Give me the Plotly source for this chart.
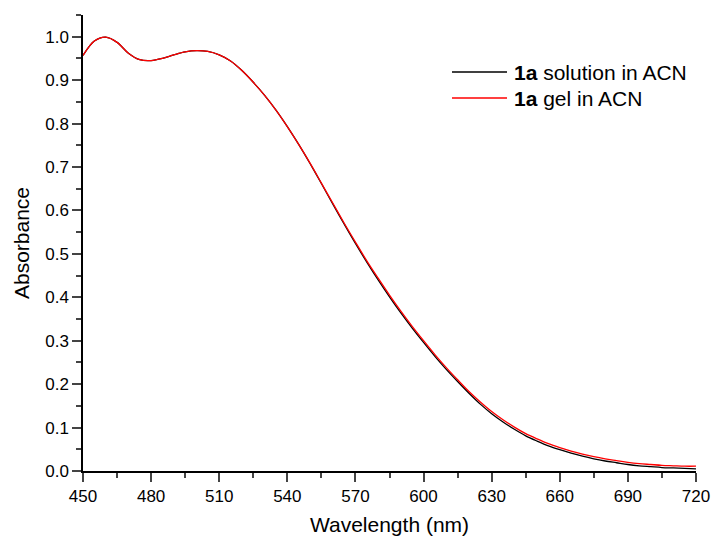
import plotly.graph_objects as go

wavelength = list(range(450, 721, 5))

solution = [0.957, 0.990, 0.999, 0.987, 0.962, 0.947, 0.945, 0.950, 0.958, 0.965,
            0.968, 0.966, 0.958, 0.944, 0.922, 0.895, 0.865, 0.831, 0.793, 0.752,
            0.708, 0.662, 0.615, 0.569, 0.524, 0.481, 0.440, 0.401, 0.364, 0.329,
            0.296, 0.264, 0.234, 0.206, 0.179, 0.154, 0.132, 0.113, 0.096, 0.081,
            0.069, 0.058, 0.049, 0.041, 0.034, 0.028, 0.023, 0.019, 0.015, 0.012,
            0.010, 0.008, 0.007, 0.006, 0.005]

gel = [0.957, 0.990, 0.999, 0.987, 0.962, 0.947, 0.945, 0.950, 0.958, 0.965,
       0.968, 0.966, 0.958, 0.944, 0.922, 0.895, 0.865, 0.831, 0.793, 0.752,
       0.709, 0.663, 0.617, 0.571, 0.527, 0.484, 0.444, 0.405, 0.368, 0.333,
       0.300, 0.268, 0.238, 0.210, 0.183, 0.159, 0.137, 0.118, 0.101, 0.086,
       0.074, 0.063, 0.054, 0.046, 0.039, 0.033, 0.028, 0.024, 0.020, 0.017,
       0.015, 0.013, 0.012, 0.011, 0.011]

series_names = ["<b>1a</b> solution in ACN", "<b>1a</b> gel in ACN"]
series_colors = ["#000000", "#ff0000"]

x_ticks = [450, 480, 510, 540, 570, 600, 630, 660, 690, 720]

fig = go.Figure()
for ys, name, col in zip([solution, gel], series_names, series_colors):
    fig.add_trace(go.Scatter(x=wavelength, y=ys, mode="lines", name=name,
                             line=dict(color=col, width=1.3, shape="spline", smoothing=0.9),
                             showlegend=False, hoverinfo="skip"))

FAM = "Liberation Sans, Arial, sans-serif"
font = dict(family=FAM, size=17, color="#000000")

# manual legend
PL, PR, PT, PB = 83, 696, 15, 471
leg_y = [72, 98]
shapes = []
annotations = []
for i, (name, col) in enumerate(zip(series_names, series_colors)):
    yp = 1 - (leg_y[i] - PT) / (PB - PT)
    shapes.append(dict(type="line", xref="paper", yref="paper",
                       x0=(452 - PL) / (PR - PL), x1=(507 - PL) / (PR - PL), y0=yp, y1=yp,
                       line=dict(color=col, width=1.3)))
    annotations.append(dict(xref="paper", yref="paper", x=(512 - PL) / (PR - PL), y=yp,
                            text=name, showarrow=False, xanchor="left", yanchor="middle",
                            font=dict(family=FAM, size=21, color="#000")))

fig.update_layout(
    width=715, height=540,
    margin=dict(l=PL, r=715 - PR, t=PT, b=540 - PB),
    paper_bgcolor="white", plot_bgcolor="white",
    font=font,
    shapes=shapes, annotations=annotations,
    xaxis=dict(range=[450, 720], tickvals=x_ticks, ticks="outside", ticklen=9, tickwidth=1.5,
               showline=True, linewidth=1.5, linecolor="#000", showgrid=False, zeroline=False,
               automargin=False,
               minor=dict(ticks="outside", ticklen=5, tickwidth=1.5, dtick=15, tick0=450, showgrid=False),
               title=dict(text="Wavelength (nm)", font=dict(size=21), standoff=12)),
    yaxis=dict(range=[0, 1.05], dtick=0.1, tick0=0, tickformat=".1f", ticks="outside", ticklen=9,
               tickwidth=1.5, showline=True, linewidth=1.5, linecolor="#000", showgrid=False,
               zeroline=False, automargin=False,
               minor=dict(ticks="outside", ticklen=5, tickwidth=1.5, dtick=0.05, tick0=0, showgrid=False),
               title=dict(text="Absorbance", font=dict(size=21), standoff=10)),
)

fig.write_html("out.html", config={"displayModeBar": False},
               post_script="document.body.style.margin='0';document.body.style.overflow='hidden';")
